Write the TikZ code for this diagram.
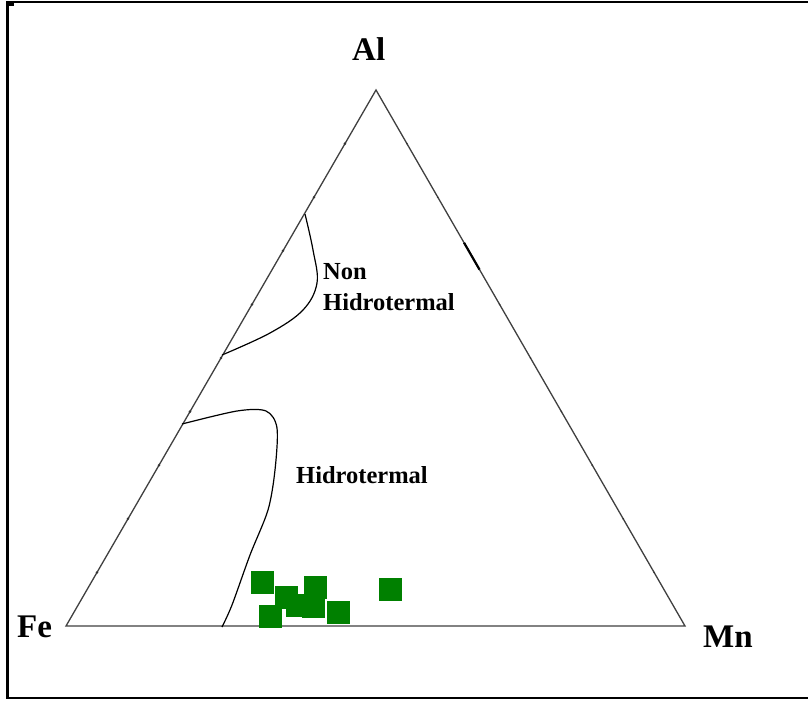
\documentclass[tikz,border=0pt]{standalone}
\usepackage{fontspec}
\setmainfont{Liberation Serif}
\usetikzlibrary{calc}
\begin{document}
\begin{tikzpicture}[x=1pt,y=-1pt,
  side/.style={draw=black!75,line width=1.3pt},
  field/.style={draw=black,line width=1.2pt},
  tickdot/.style={fill=black!80},
  sample/.style={fill=green!50!black,draw=none},
  vlabel/.style={font=\fontsize{33}{33}\selectfont\bfseries,inner sep=0pt,anchor=base west},
  flabel/.style={font=\fontsize{24.5}{24.5}\selectfont\bfseries,inner sep=0pt,anchor=base west}]
\useasboundingbox (0,0) rectangle (808,702);
\fill[white] (0,0) rectangle (808,702);
% frame
\draw[line width=2.4pt] (808,2) -- (7.5,2) -- (7.5,698) -- (808,698);
\fill (9,2) rectangle (14,6);
% triangle vertices
\coordinate (Fe) at (66,626);
\coordinate (Al) at (376,90);
\coordinate (Mn) at (685,626);
\draw[side] (Fe) -- (Al) -- (Mn) -- cycle;
% tick marks
\foreach \t in {0.1,0.2,...,0.91} {
  \fill[tickdot] ($(Fe)!\t!(Al)$) circle (1.4);
  \fill[tickdot] ($(Mn)!\t!(Al)$) circle (0.9);
}
\draw[line width=2.2pt] ($(Mn)!0.665!(Al)$) -- ($(Mn)!0.715!(Al)$);
% fields
\draw[field] plot[smooth,tension=0.6] coordinates {(305,214) (313,250) (317,283) (303,310) (270,333) (222,355)};
\draw[field] plot[smooth,tension=0.5] coordinates {(182,424) (237,411) (266,411) (277,428) (275,470) (268,510) (250,555) (232,605) (222,627)};
% labels
\node[vlabel] (lAl) at (352,60) {Al};
\node[vlabel] (lFe) at (17,637) {Fe};
\node[vlabel] (lMn) at (703,647) {Mn};
\node[flabel] (lNon) at (323,279) {Non};
\node[flabel] (lNonH) at (323,310) {Hidrotermal};
\node[flabel] (lH) at (296,483) {Hidrotermal};
% samples
\foreach \x/\y in {262/582, 286/597, 315/587, 297/605, 313/606, 270/616, 338/612, 390/589} {
  \fill[sample] (\x-11.5,\y-11.5) rectangle (\x+11.5,\y+11.5);
}
\end{tikzpicture}
\end{document}
